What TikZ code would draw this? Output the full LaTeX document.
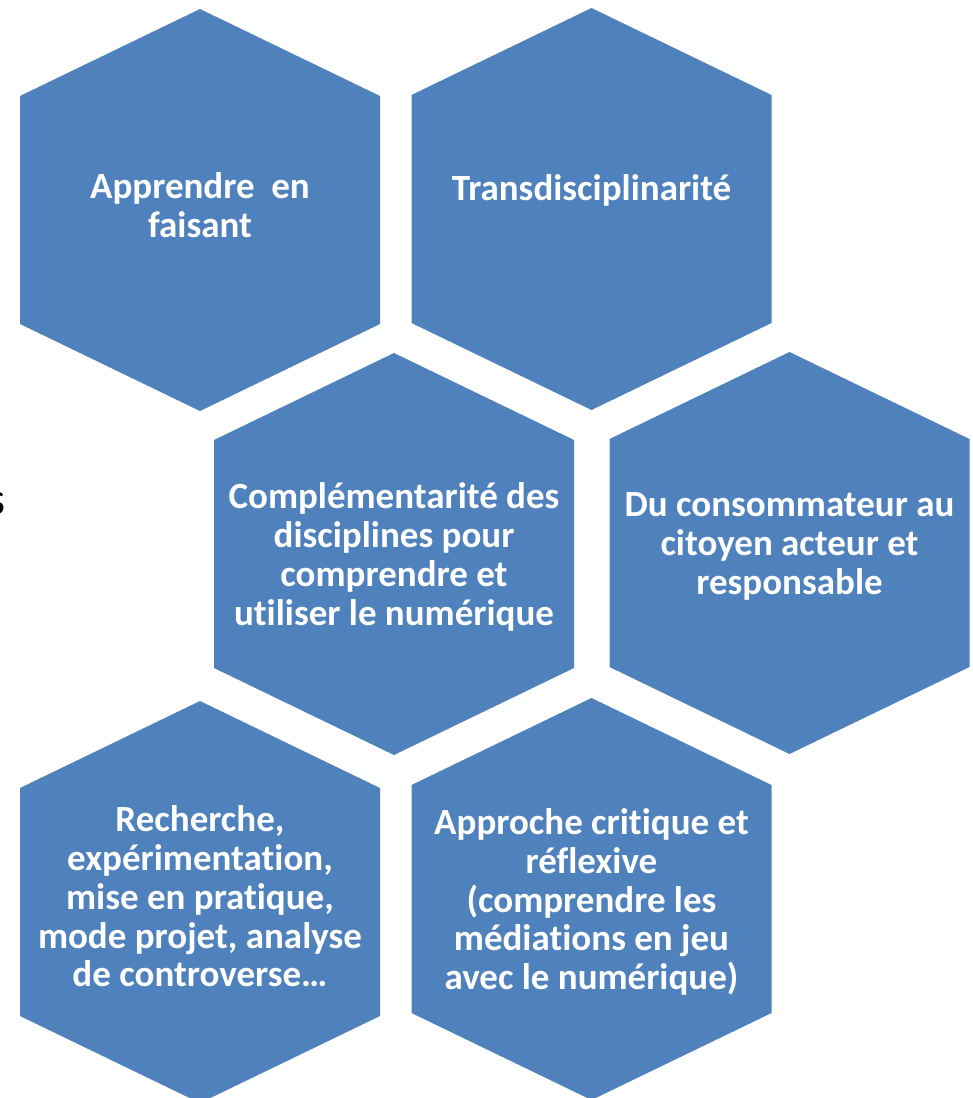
\documentclass[tikz,border=0pt]{standalone}
\usepackage{fontspec}
\setmainfont{Carlito}[Ligatures={NoCommon}]
\definecolor{hexblue}{RGB}{79,129,189}
\begin{document}
\begin{tikzpicture}[x=1pt,y=-1pt,
  hexa/.pic={\fill[hexblue] (0,-201)--(180,-114)--(180,114)--(0,201)--(-180,114)--(-180,-114)--cycle;},
  hextext/.style={text=white,font=\fontsize{37}{38.8}\selectfont\bfseries,align=center,inner sep=0pt},
  sidetext/.style={text=black,font=\fontsize{46}{50}\selectfont,anchor=east,inner sep=0pt}]
\useasboundingbox (0,0) rectangle (973,1098);
\pic at (200,210) {hexa};
\pic at (591.5,209) {hexa};
\pic at (394,554) {hexa};
\pic at (789.5,553) {hexa};
\pic at (200,902) {hexa};
\pic at (591.5,899) {hexa};
\node[hextext] (t1) at (200,205) {Apprendre\ \ en\\faisant};
\node[hextext] (t2) at (591.5,190) {Transdisciplinarité};
\node[hextext] (t3) at (394,557) {Complémentarité des\\disciplines pour\\comprendre et\\utiliser le numérique};
\node[hextext] (t4) at (789.5,546.5) {Du consommateur au\\citoyen acteur et\\responsable};
\node[hextext] (t5) at (200,896.5) {Recherche,\\expérimentation,\\mise en pratique,\\mode projet, analyse\\de controverse…};
\node[hextext] (t6) at (591.5,902) {Approche critique et\\réflexive\\(comprendre les\\médiations en jeu\\avec le numérique)};
\node[sidetext] (s) at (6,504) {s};
\end{tikzpicture}
\end{document}
